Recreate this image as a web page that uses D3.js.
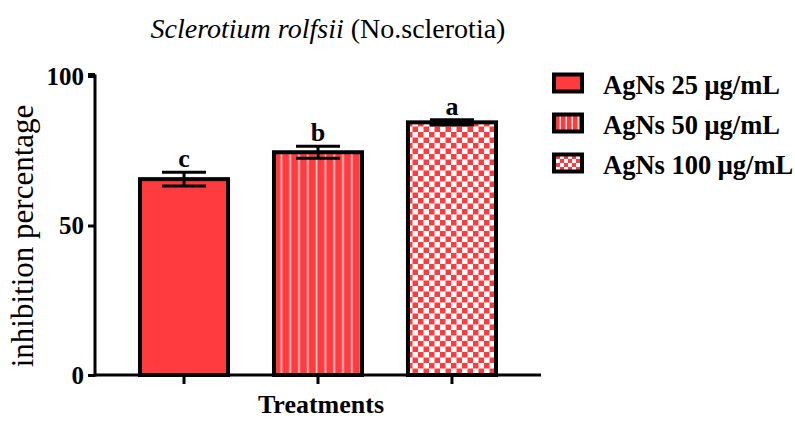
<!DOCTYPE html>
<html><head><meta charset="utf-8">
<script src="https://cdn.jsdelivr.net/npm/d3@7"></script>
<style>body{margin:0;background:#fff}svg{display:block}</style>
</head><body>
<svg id="c" width="795" height="421"></svg>
<script>
const categories = ["AgNs 25 μg/mL", "AgNs 50 μg/mL", "AgNs 100 μg/mL"];
const values = [65.5, 74.5, 84.5];
const errors = [2.3, 2.0, 0.9];
const letters = ["c", "b", "a"];
const yTicks = [0, 50, 100];
const patterns = ["solid", "stripes", "checker"];

const RED = "#ff3b40";
const FONT = "'Liberation Serif', serif";
const svg = d3.select("#c");
const defs = svg.append("defs");

const ps = defs.append("pattern").attr("id", "stripes").attr("patternUnits", "userSpaceOnUse")
  .attr("width", 8.8).attr("height", 10).attr("x", 142);
ps.append("rect").attr("width", 8.8).attr("height", 10).attr("fill", RED);
ps.append("rect").attr("x", 6.6).attr("width", 1.6).attr("height", 10).attr("fill", "#ffd0d0");
const pc = defs.append("pattern").attr("id", "checker").attr("patternUnits", "userSpaceOnUse")
  .attr("width", 11).attr("height", 11);
pc.append("rect").attr("width", 11).attr("height", 11).attr("fill", "#fff");
pc.append("rect").attr("width", 5.5).attr("height", 5.5).attr("fill", RED);
pc.append("rect").attr("x", 5.5).attr("y", 5.5).attr("width", 5.5).attr("height", 5.5).attr("fill", RED);
const pls = defs.append("pattern").attr("id", "stripesL").attr("patternUnits", "userSpaceOnUse")
  .attr("width", 6).attr("height", 10).attr("x", 555);
pls.append("rect").attr("width", 6).attr("height", 10).attr("fill", RED);
pls.append("rect").attr("x", 4.5).attr("width", 1.5).attr("height", 10).attr("fill", "#ffd8d8");
const plc = defs.append("pattern").attr("id", "checkerL").attr("patternUnits", "userSpaceOnUse")
  .attr("width", 8).attr("height", 8).attr("x", 556).attr("y", 155);
plc.append("rect").attr("width", 8).attr("height", 8).attr("fill", "#fff");
plc.append("rect").attr("width", 4).attr("height", 4).attr("fill", RED);
plc.append("rect").attr("x", 4).attr("y", 4).attr("width", 4).attr("height", 4).attr("fill", RED);

const fillFor = (p, legend) => p === "solid" ? RED : `url(#${p}${legend ? "L" : ""})`;

const x0 = 95, x1 = 541, yBottom = 375, yTop = 76;
const x = d3.scaleBand().domain(categories).range([x0, x1]).paddingInner(0.343).paddingOuter(0.336);
const y = d3.scaleLinear().domain([0, 100]).range([yBottom, yTop]);

svg.append("g").selectAll("rect").data(categories).join("rect")
  .attr("x", d => x(d)).attr("width", x.bandwidth())
  .attr("y", (d, i) => y(values[i])).attr("height", (d, i) => y(0) - y(values[i]))
  .attr("fill", (d, i) => fillFor(patterns[i], false))
  .attr("stroke", "#000").attr("stroke-width", 4);

const capW = 44;
const eg = svg.append("g").attr("stroke", "#000").attr("stroke-width", 3);
categories.forEach((c, i) => {
  const cx = x(c) + x.bandwidth() / 2;
  eg.append("line").attr("x1", cx).attr("x2", cx).attr("y1", y(values[i] + errors[i])).attr("y2", y(values[i] - errors[i]));
  eg.append("line").attr("x1", cx - capW / 2).attr("x2", cx + capW / 2).attr("y1", y(values[i] + errors[i])).attr("y2", y(values[i] + errors[i]));
  eg.append("line").attr("x1", cx - capW / 2).attr("x2", cx + capW / 2).attr("y1", y(values[i] - errors[i])).attr("y2", y(values[i] - errors[i]));
  svg.append("text").attr("x", cx).attr("y", y(values[i] + errors[i]) - 5)
    .attr("text-anchor", "middle").attr("font-family", FONT).attr("font-weight", "bold")
    .attr("font-size", 26).text(letters[i]);
});

const yAxis = svg.append("g").attr("transform", `translate(${x0},0)`)
  .call(d3.axisLeft(y).tickValues(yTicks).tickSize(7).tickPadding(4));
yAxis.select(".domain").attr("stroke-width", 3).attr("d", `M0,${yTop - 1.5}H-7M0,${yTop - 1.5}V${yBottom + 1.5}`);
yAxis.selectAll(".tick line").attr("stroke-width", 3);
yAxis.selectAll(".tick text").attr("font-family", FONT).attr("font-weight", "bold").attr("font-size", 25).attr("fill", "#000");

const xAxis = svg.append("g").attr("transform", `translate(0,${yBottom})`)
  .call(d3.axisBottom(x).tickSize(7).tickFormat(""));
xAxis.select(".domain").attr("stroke-width", 3).attr("d", `M${x0 - 1.5},0H${x1}`);
xAxis.selectAll(".tick line").attr("stroke-width", 3).attr("y1", 1.5).attr("y2", 9);

svg.append("text").attr("x", 321).attr("y", 413).attr("text-anchor", "middle")
  .attr("font-family", FONT).attr("font-weight", "bold").attr("font-size", 26).text("Treatments");
svg.append("text").attr("transform", "translate(33,236) rotate(-90)").attr("text-anchor", "middle")
  .attr("font-family", FONT).attr("font-size", 31).text("inhibition percentage");
const t = svg.append("text").attr("x", 328).attr("y", 38).attr("text-anchor", "middle")
  .attr("font-family", FONT).attr("font-size", 28);
t.append("tspan").attr("font-style", "italic").text("Sclerotium rolfsii");
t.append("tspan").text(" (No.sclerotia)");

const lg = svg.append("g");
categories.forEach((c, i) => {
  const cy = 83 + i * 40;
  lg.append("rect").attr("x", 554).attr("y", cy - 8.5).attr("width", 28).attr("height", 17)
    .attr("fill", fillFor(patterns[i], true)).attr("stroke", "#000").attr("stroke-width", 4);
  lg.append("text").attr("x", 603).attr("y", cy + 10.5).attr("font-family", FONT)
    .attr("font-weight", "bold").attr("font-size", 26.5).text(c);
});
</script>
</body></html>
